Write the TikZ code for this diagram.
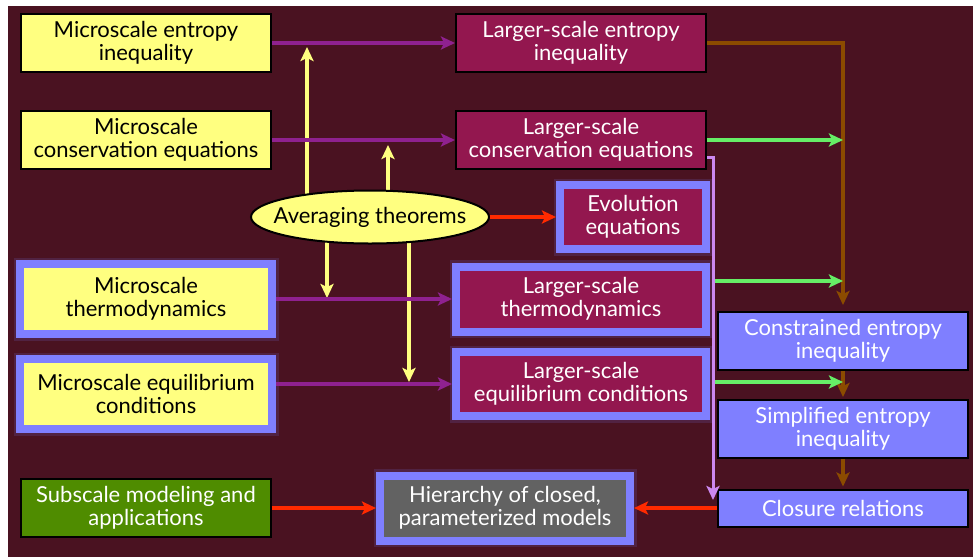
\documentclass[tikz,border=0pt]{standalone}
\usepackage{fontspec}
\setmainfont{Lato}
\usetikzlibrary{arrows.meta,shapes.geometric,positioning}
\pgfdeclarelayer{bg}
\pgfdeclarelayer{back}
\pgfsetlayers{bg,back,main}

\definecolor{bgmaroon}{HTML}{4A1221}
\definecolor{boxyellow}{HTML}{FFFF80}
\definecolor{boxmagenta}{HTML}{93174F}
\definecolor{frameblue}{HTML}{7F7FFF}
\definecolor{boxgreen}{HTML}{4F8C00}
\definecolor{boxgray}{HTML}{626262}
\definecolor{arrpurple}{HTML}{8F218F}
\definecolor{arrbrown}{HTML}{8B4B00}
\definecolor{arrgreen}{HTML}{66EE66}
\definecolor{arrlilac}{HTML}{CC88F0}
\definecolor{arrred}{HTML}{FF2A00}

\tikzset{
  box/.style={draw=black, line width=2pt, align=center, inner sep=0pt,
    font=\fontsize{22}{22.5}\selectfont, minimum width=250pt, minimum height=58pt},
  yel/.style={box, fill=boxyellow, text=black},
  mag/.style={box, fill=boxmagenta, text=white},
  blu/.style={box, fill=frameblue, text=white},
  grn/.style={box, fill=boxgreen, text=white},
  gry/.style={box, fill=boxgray, text=white},
  frm/.style={draw=frameblue, line width=8pt,
    preaction={draw=frameblue, draw opacity=0.15, line width=13pt}},
  tip/.style={-{Stealth[length=14pt,width=13pt,inset=3pt]}},
  parr/.style={tip, draw=arrpurple, line width=3.5pt},
  yarr/.style={tip, draw=boxyellow, line width=3.5pt},
  rarr/.style={tip, draw=arrred, line width=3.5pt},
  garr/.style={tip, draw=arrgreen, line width=3.5pt},
  brarr/.style={tip, draw=arrbrown, line width=3.5pt},
  larr/.style={tip, draw=arrlilac, line width=3pt},
}

\begin{document}
\begin{tikzpicture}[x=1pt, y=-1pt, node distance=97pt]
  \useasboundingbox (0,0) rectangle (973,557);
  \begin{pgfonlayer}{bg}
    \fill[white] (0,0) rectangle (973,557);
    \fill[bgmaroon] (8,6) rectangle (973,557);
  \end{pgfonlayer}

  % microscale column
  \node[yel] (a1) at (146,43) {Microscale entropy\\inequality};
  \node[yel, below of=a1] (a2) {Microscale\\conservation equations};
  \node[yel, frm, below of=a2, yshift=-62pt, minimum width=252pt, minimum height=70pt] (a3) {Microscale\\thermodynamics};
  \node[yel, frm, below of=a3, yshift=2pt, minimum width=252pt, minimum height=70pt] (a4) {Microscale equilibrium\\conditions};
  \node[grn, below of=a4, yshift=-17pt] (sub) {Subscale modeling and\\applications};

  % larger-scale column
  \node[mag] (b1) at (581,43) {Larger-scale entropy\\inequality};
  \node[mag, below of=b1] (b2) {Larger-scale\\conservation equations};
  \node[mag, frm, minimum width=146pt, minimum height=64pt] (evo) at (633,217) {Evolution\\equations};
  \node[mag, frm, below of=b2, yshift=-62pt, minimum height=65pt] (b3) {Larger-scale\\thermodynamics};
  \node[mag, frm, below of=b3, yshift=12pt, minimum height=64pt] (b4) {Larger-scale\\equilibrium conditions};
  \node[gry, frm, right of=sub, xshift=262pt, minimum height=65pt] (hier) {Hierarchy of closed,\\parameterized models};

  \node[ellipse, draw=black, line width=2pt, fill=boxyellow, inner xsep=-16pt, inner ysep=0pt,
    minimum width=238pt, minimum height=53pt, font=\fontsize{22}{22.5}\selectfont] (avg) at (370,217) {Averaging theorems};

  % closure column
  \node[blu, right of=hier, xshift=241pt, minimum height=37pt] (c3) {Closure relations};
  \node[blu, above of=c3, yshift=-18pt] (c2) {Simplified entropy\\inequality};
  \node[blu, above of=c2, yshift=-9pt] (c1) {Constrained entropy\\inequality};

  \coordinate (u1) at (307,47);
  \coordinate (u2) at (388,145);
  \coordinate (d1) at (327,298);
  \coordinate (d2) at (409,382);
  \coordinate (lv) at (713,500);
  \coordinate (g2) at (713,281);
  \coordinate (g3) at (713,382);

  \begin{pgfonlayer}{back}
    \draw[yarr] (avg.center -| u1) -- (u1);
    \draw[yarr] (avg.center -| u2) -- (u2);
    \draw[yarr] (avg.center -| d1) -- (d1);
    \draw[yarr] (avg.center -| d2) -- (d2);
  \end{pgfonlayer}

  \draw[parr] (a1)--(b1);
  \draw[parr] (a2)--(b2);
  \draw[parr] (a3)--(b3);
  \draw[parr] (b4.west -| a4.east)--(b4.west);

  \draw[rarr] (avg)--(evo);
  \draw[rarr] (sub)--(hier);
  \draw[rarr] (c3)--(hier);

  \draw[brarr, shorten >=6pt] (b1.east) -| (c1.north);
  \draw[brarr, shorten >=2pt] (c1)--(c2);
  \draw[brarr, shorten >=2pt] (c2)--(c3);

  \draw[garr] (b2.east)--(b2.east -| c1.north);
  \draw[garr] (g2)--(g2 -| c1.north);
  \draw[garr] (g3)--(g3 -| c1.north);

  \draw[larr] (b2.east) ++(0,17) -| (lv);
\end{tikzpicture}
\end{document}
